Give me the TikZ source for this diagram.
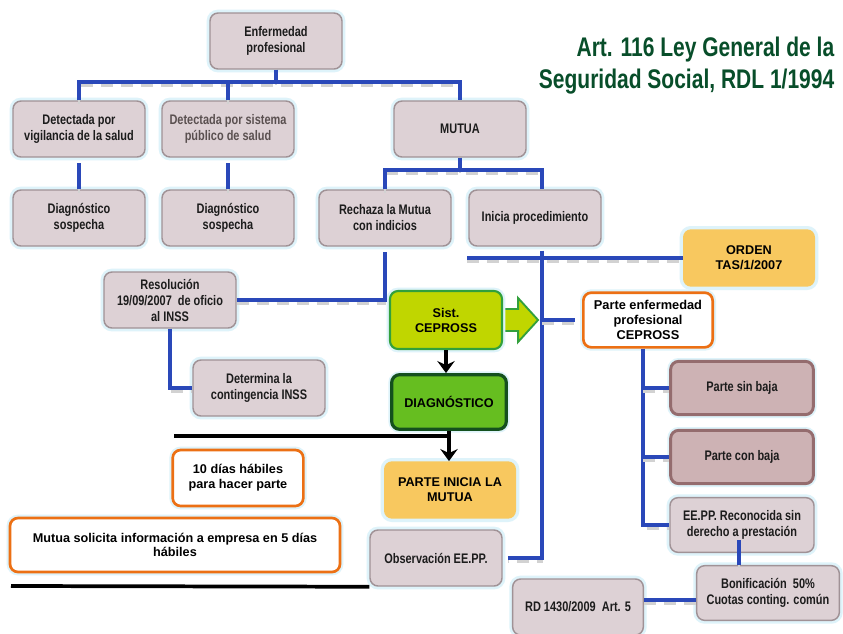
\documentclass[tikz,border=0pt]{standalone}
\usepackage{fontspec}
\setmainfont{Liberation Sans}
\newfontfamily\narrowfont{Liberation Sans}[FakeStretch=0.79]
\newfontfamily\headfont{Liberation Sans}[FakeStretch=0.78]
\usetikzlibrary{calc,arrows.meta}

\definecolor{boxfill}{RGB}{221,209,213}
\definecolor{boxline}{RGB}{160,146,150}
\definecolor{darkfill}{RGB}{205,178,180}
\definecolor{darkline}{RGB}{148,108,110}
\definecolor{linkblue}{RGB}{42,72,185}
\definecolor{titlegreen}{RGB}{8,78,42}
\definecolor{ambar}{RGB}{248,200,95}
\definecolor{naranja}{RGB}{236,112,20}
\definecolor{lima}{RGB}{192,214,0}
\definecolor{limaline}{RGB}{50,160,60}
\definecolor{verde}{RGB}{102,190,32}
\definecolor{verdeosc}{RGB}{20,80,30}
\definecolor{halo}{RGB}{222,243,250}
\definecolor{greytext}{RGB}{90,80,80}
\definecolor{inktext}{RGB}{28,28,28}

\pgfdeclarelayer{paper}
\pgfdeclarelayer{under}
\pgfsetlayers{paper,under,main}

\tikzset{
  glow/.style={preaction={draw=halo, line width=5pt}},
  gbox/.style={glow, rounded corners=6pt, draw=boxline, line width=1.1pt,
    fill=boxfill, minimum width=99pt, minimum height=42pt, align=center,
    inner sep=2pt, text=inktext,
    font=\narrowfont\bfseries\fontsize{10.4}{12}\selectfont},
  dbox/.style={gbox, fill=darkfill, draw=darkline, line width=2.2pt,
    minimum width=107pt, minimum height=40pt},
  obox/.style={glow, rounded corners=6pt, draw=naranja, line width=2pt,
    fill=white, minimum width=98pt, minimum height=42pt, align=center,
    inner sep=2pt, font=\bfseries\fontsize{9.5}{11.4}\selectfont},
  abox/.style={glow, rounded corners=6pt, fill=ambar, minimum width=99pt,
    minimum height=43pt, align=center, inner sep=2pt,
    font=\bfseries\fontsize{9.5}{11.2}\selectfont},
  link/.style={draw=linkblue, line width=3pt,
    preaction={draw=gray!35, line width=2pt, dash pattern=on 9pt off 6pt,
      transform canvas={yshift=-2.5pt}}},
  blk/.style={draw=black, line width=2.8pt},
  tip/.style={-{Stealth[length=9pt,width=13pt,inset=3pt]}}
}

\begin{document}
\begin{tikzpicture}[x=0.75pt,y=-0.75pt]
\begin{pgfonlayer}{paper}
  \fill[white] (0,0) rectangle (843,633);
\end{pgfonlayer}
\useasboundingbox (0,0) rectangle (843,633);

% heading
\node[anchor=east, align=right, text=titlegreen,
  font=\headfont\bfseries\fontsize{20.2}{24}\selectfont] (title) at (839,66)
  {Art. 116 Ley General de la\\Seguridad Social, RDL 1/1994};

% upper tree
\node[gbox] (enf) at (276,41) {Enfermedad\\profesional};
\node[gbox] (det1) at (79,129) {Detectada por\\vigilancia de la salud};
\node[gbox, text=greytext] (det2) at (228,129) {Detectada por sistema\\público de salud};
\node[gbox] (mutua) at (460,129) {MUTUA};
\node[gbox] (diag1) at (79,218) {Diagnóstico\\sospecha};
\node[gbox] (diag2) at (228,218) {Diagnóstico\\sospecha};
\node[gbox] (rech) at (385,218) {Rechaza la Mutua\\con indicios};
\node[gbox] (inicia) at (535,218) {Inicia procedimiento};

% INSS branch
\node[gbox] (res) at (170,300) {Resolución\\19/09/2007\ \ de oficio\\al INSS};
\node[gbox] (det) at (259,388) {Determina la\\contingencia INSS};

% central column
\node[glow, rounded corners=6pt, draw=limaline, line width=1.6pt, fill=lima,
  minimum width=84pt, minimum height=43.5pt, align=center,
  font=\bfseries\fontsize{9.5}{11.2}\selectfont] (sist) at (446,320) {Sist.\\CEPROSS};
\node[glow, rounded corners=6pt, draw=verdeosc, line width=2.4pt, fill=verde,
  minimum width=86pt, minimum height=41pt,
  font=\bfseries\fontsize{9.5}{11.2}\selectfont] (diagn) at (449,402) {DIAGNÓSTICO};
\node[abox] (parteini) at (450,490) {PARTE INICIA LA\\MUTUA};
\node[gbox] (obs) at (436,558) {Observación EE.PP.};

% time limits
\node[obox] (diez) at (238,478) {10 días hábiles\\para hacer parte};
\node[obox, minimum width=247.5pt, minimum height=40.5pt,
  font=\bfseries\fontsize{9.5}{10.5}\selectfont] (solic) at (175,545)
  {Mutua solicita información a empresa en 5 días\\hábiles};

% right column
\node[abox] (orden) at (749,258) {ORDEN\\TAS/1/2007};
\node[obox, minimum width=97pt, minimum height=41pt,
  font=\bfseries\fontsize{9.6}{11.3}\selectfont] (pep) at (648,320)
  {Parte enfermedad\\profesional\\CEPROSS};
\node[dbox] (psin) at (742,388) {Parte sin baja};
\node[dbox] (pcon) at (742,457) {Parte con baja};
\node[gbox, minimum width=108pt, minimum height=41pt] (eepp) at (742,525)
  {EE.PP. Reconocida sin\\derecho a prestación};
\node[gbox, minimum width=107pt, minimum height=41pt] (bonif) at (768,593)
  {Bonificación\ \ 50\%\\Cuotas conting. común};
\node[gbox, minimum width=98pt] (rd) at (578,607) {RD 1430/2009\ \ Art. 5};

% auxiliary points of the connectors
\coordinate (h1) at (0,82);
\coordinate (h2) at (0,170);
\coordinate (tx) at (542,0);
\coordinate (hl) at (467,258);
\coordinate (px) at (643,0);
\coordinate (b1) at (739,540);
\coordinate (by) at (0,600);
\coordinate (k1) at (174,436);
\coordinate (k2) at (11,586);

% block arrow out of CEPROSS
\begin{pgfonlayer}{under}
  \draw[fill=lima, draw=limaline, line width=1.4pt, line join=miter]
    ($(sist.east)+(-4,-11)$) -- ++(19,0) -- ++(0,-11) -- ++(20,22)
    -- ++(-20,22) -- ++(0,-11) -- ++(-19,0);
\end{pgfonlayer}

% blue connectors
\draw[link] (enf.south) -- (enf.south |- h1);
\draw[link] (det1.north) |- (h1 -| mutua.north) -- (mutua.north);
\draw[link] (det2.north) -- (det2.north |- h1);
\draw[link, shorten <=4pt] (det1.south) -- (diag1.north);
\draw[link, shorten <=4pt] (det2.south) -- (diag2.north);
\draw[link] (mutua.south) -- (mutua.south |- h2);
\draw[link] (rech.north) |- (h2 -| tx) -- (inicia.north -| tx);
\draw[link, shorten >=4pt] (res.east) -| (rech.south);
\draw[link] (res.south) |- (det.west);
\draw[link, shorten <=3pt, shorten >=4pt] (inicia.south -| tx) |- (obs.east);
\draw[link] (hl) -- (orden.west);
\draw[link, shorten >=5pt] (tx |- pep.west) -- (pep.west);
\draw[link] (pep.south -| px) |- (eepp.west);
\draw[link] (px |- psin.west) -- (psin.west);
\draw[link] (px |- pcon.west) -- (pcon.west);
\draw[link] (b1) -- (b1 |- bonif.north);
\draw[link] (rd.east |- by) -- (bonif.west |- by);

% black arrows and rules
\draw[blk, tip] (sist.south) -- (sist.south |- diagn.north);
\draw[blk] (k1) -- (k1 -| diagn.south);
\draw[blk, tip] (diagn.south) -- (diagn.south |- parteini.north);
\draw[blk] (k2) -- (obs.south west);
\end{tikzpicture}
\end{document}
